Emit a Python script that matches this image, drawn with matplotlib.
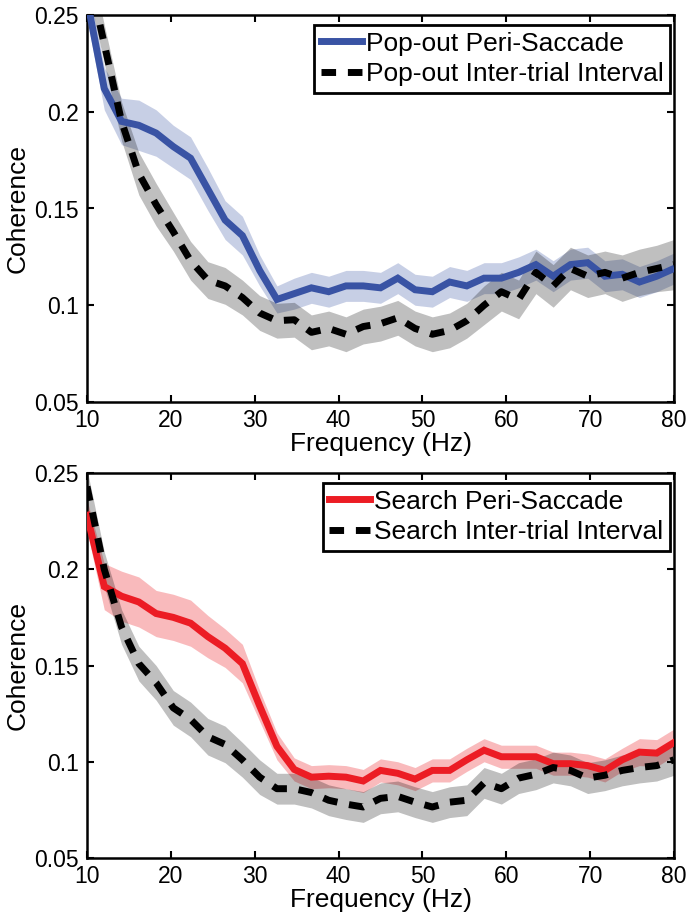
import numpy as np
import matplotlib
matplotlib.use("Agg")
import matplotlib.pyplot as plt
from matplotlib.ticker import FixedLocator

plt.rcParams['font.family'] = ['Liberation Sans', 'DejaVu Sans']

# ---- data ----
freq = [10.0, 12.06, 14.12, 16.18, 18.24, 20.29, 22.35, 24.41, 26.47, 28.53,
        30.59, 32.65, 34.71, 36.76, 38.82, 40.88, 42.94, 45.0, 47.06, 49.12,
        51.18, 53.24, 55.29, 57.35, 59.41, 61.47, 63.53, 65.59, 67.65, 69.71,
        71.76, 73.82, 75.88, 77.94, 80.0]

popout_peri = [0.258, 0.212, 0.195, 0.193, 0.189, 0.182, 0.176, 0.160, 0.144, 0.136,
               0.118, 0.103, 0.106, 0.109, 0.107, 0.110, 0.110, 0.109, 0.114, 0.108,
               0.107, 0.112, 0.110, 0.114, 0.114, 0.117, 0.121, 0.115, 0.121, 0.122,
               0.115, 0.116, 0.112, 0.115, 0.119]
popout_peri_sem = [0.010, 0.011, 0.012, 0.013, 0.012, 0.011, 0.011, 0.011, 0.010, 0.010,
                   0.008, 0.007, 0.008, 0.008, 0.008, 0.008, 0.008, 0.008, 0.008, 0.008,
                   0.008, 0.008, 0.008, 0.008, 0.008, 0.008, 0.008, 0.008, 0.008, 0.008,
                   0.008, 0.008, 0.008, 0.008, 0.008]

popout_iti = [0.275, 0.235, 0.195, 0.168, 0.152, 0.138, 0.123, 0.113, 0.110, 0.104,
              0.096, 0.092, 0.0925, 0.086, 0.088, 0.085, 0.089, 0.0905, 0.0935, 0.088,
              0.085, 0.087, 0.092, 0.100, 0.107, 0.103, 0.117, 0.110, 0.119, 0.115,
              0.117, 0.114, 0.117, 0.119, 0.121]
popout_iti_sem = [0.010, 0.010, 0.010, 0.011, 0.011, 0.010, 0.010, 0.0095, 0.0095, 0.009,
                  0.009, 0.009, 0.009, 0.009, 0.009, 0.009, 0.009, 0.009, 0.009, 0.009,
                  0.009, 0.009, 0.009, 0.010, 0.010, 0.010, 0.011, 0.011, 0.011, 0.011,
                  0.011, 0.012, 0.012, 0.012, 0.013]

search_peri = [0.228, 0.191, 0.186, 0.183, 0.177, 0.175, 0.172, 0.165, 0.159, 0.151,
               0.129, 0.108, 0.096, 0.092, 0.0925, 0.092, 0.090, 0.0955, 0.094, 0.091,
               0.0955, 0.0955, 0.101, 0.106, 0.1026, 0.1026, 0.1026, 0.099, 0.099, 0.098,
               0.0955, 0.101, 0.105, 0.1045, 0.110]
search_peri_sem = [0.008, 0.012, 0.013, 0.013, 0.012, 0.012, 0.012, 0.011, 0.010, 0.010,
                   0.008, 0.007, 0.006, 0.006, 0.006, 0.006, 0.006, 0.006, 0.006, 0.006,
                   0.006, 0.006, 0.006, 0.006, 0.006, 0.006, 0.006, 0.006, 0.006, 0.006,
                   0.006, 0.006, 0.007, 0.007, 0.007]

search_iti = [0.243, 0.200, 0.170, 0.151, 0.141, 0.128, 0.122, 0.113, 0.109, 0.101,
              0.092, 0.086, 0.086, 0.084, 0.080, 0.078, 0.0765, 0.081, 0.082, 0.079,
              0.0765, 0.079, 0.080, 0.089, 0.086, 0.0915, 0.0935, 0.097, 0.0955, 0.0915,
              0.093, 0.0955, 0.097, 0.098, 0.101]
search_iti_sem = [0.009, 0.009, 0.009, 0.009, 0.009, 0.009, 0.009, 0.0095, 0.0095, 0.009,
                  0.009, 0.008, 0.008, 0.008, 0.008, 0.008, 0.008, 0.008, 0.008, 0.008,
                  0.008, 0.008, 0.008, 0.008, 0.008, 0.008, 0.008, 0.008, 0.008, 0.008,
                  0.008, 0.008, 0.008, 0.008, 0.008]

xticks = [10, 20, 30, 40, 50, 60, 70, 80]
yticks = [0.05, 0.1, 0.15, 0.2, 0.25]
ytick_labels = ["0.05", "0.1", "0.15", "0.2", "0.25"]

panels = [
    dict(peri=popout_peri, peri_sem=popout_peri_sem, iti=popout_iti, iti_sem=popout_iti_sem,
         color="#3953a4", band_alpha=0.28,
         labels=["Pop-out Peri-Saccade", "Pop-out Inter-trial Interval"]),
    dict(peri=search_peri, peri_sem=search_peri_sem, iti=search_iti, iti_sem=search_iti_sem,
         color="#ec1c24", band_alpha=0.30,
         labels=["Search Peri-Saccade", "Search Inter-trial Interval"]),
]

W, H = 688, 921
fig = plt.figure(figsize=(W / 100, H / 100), dpi=100)
rects = [(87, 15, 674, 402), (87, 473, 674, 858)]

FS = 19
for p, (l, t, r, b) in zip(panels, rects):
    ax = fig.add_axes([l / W, 1 - b / H, (r - l) / W, (b - t) / H])
    f = np.array(freq)
    peri = np.array(p["peri"]); psem = np.array(p["peri_sem"])
    iti = np.array(p["iti"]); isem = np.array(p["iti_sem"])
    ax.fill_between(f, peri - psem, peri + psem, color=p["color"], alpha=p["band_alpha"],
                    linewidth=0, zorder=1)
    ax.fill_between(f, iti - isem, iti + isem, color="black", alpha=0.25,
                    linewidth=0, zorder=2)
    ax.plot(f, peri, color=p["color"], linewidth=5, solid_joinstyle="miter",
            label=p["labels"][0], zorder=3)
    ax.plot(f, iti, color="black", linewidth=5, linestyle=(0, (2.1, 1.7)),
            label=p["labels"][1], zorder=4)
    ax.set_xlim(10, 80)
    ax.set_ylim(0.05, 0.25)
    ax.xaxis.set_major_locator(FixedLocator(xticks))
    ax.set_xticklabels([str(x) for x in xticks], fontsize=16.5)
    ax.yaxis.set_major_locator(FixedLocator(yticks))
    ax.set_yticklabels(ytick_labels, fontsize=16.5)
    ax.tick_params(direction="in", length=5, width=1.5, top=True, right=True)
    ax.tick_params(axis="x", pad=5)
    ax.tick_params(axis="y", pad=6)
    for s in ax.spines.values():
        s.set_linewidth(1.8)
    ax.set_xlabel("Frequency (Hz)", fontsize=FS, labelpad=0)
    ax.set_ylabel("Coherence", fontsize=FS, labelpad=3)
    leg = ax.legend(loc="upper right", bbox_to_anchor=(0.9932, 0.974), borderaxespad=0,
                    fontsize=FS, frameon=True, fancybox=False, edgecolor="black",
                    framealpha=1, handlelength=1.55, handletextpad=0.15,
                    labelspacing=0.25, borderpad=0.25)
    leg.get_frame().set_linewidth(2.0)

fig.savefig("out.png", dpi=100)
